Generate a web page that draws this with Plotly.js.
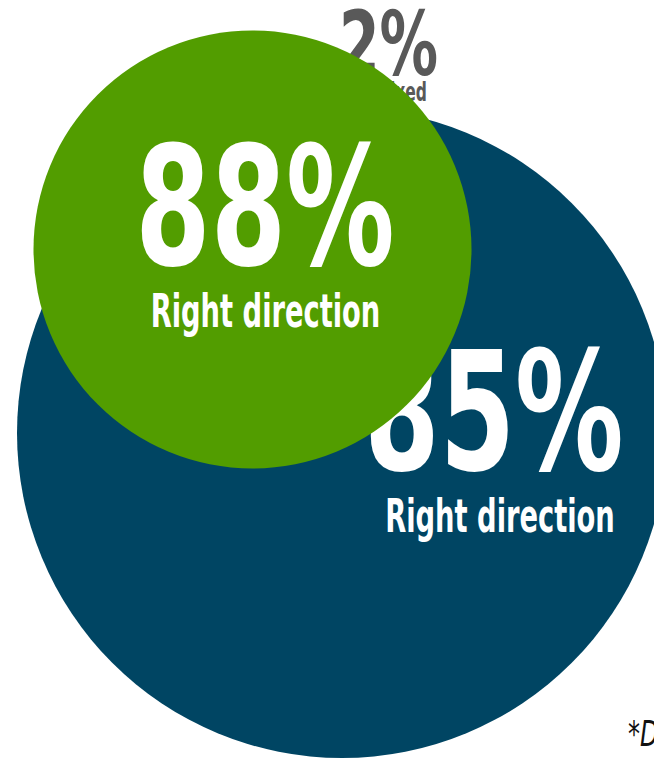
<!DOCTYPE html>
<html>
<head>
<meta charset="utf-8">
<script src="https://cdn.plot.ly/plotly-3.0.1.min.js"></script>
<style>html,body{margin:0;padding:0;background:#fff;}#chart{width:654px;height:759px;}</style>
</head>
<body>
<div id="chart"></div>
<script>
// Data
const groups = ["Group B", "Group A", "Other"];
const percents = [85, 88, 2];
const labels = ["Right direction", "Right direction", "Mixed"];
const footnote = "*Don't know";

// Layout (pixel coordinates on a 654x759 canvas)
const circleCenters = {x: [342, 252.5], y: [433, 249.5]};
const circleDiam = [650, 438];
const circleColors = ["#004563", "#529D00"];
const FONT = "DejaVu Sans Condensed, DejaVu Sans, sans-serif";

const pct = v => v + "%";

// each trace gets a horizontal squeeze factor (condensed look)
const squeeze = [];
const traces = [];
function addText(x, y, txt, size, color, sx, pos, extra) {
  traces.push({x: [x], y: [y], mode: "text", text: [txt], textposition: pos || "middle center",
    textfont: Object.assign({family: FONT, size: size, color: color, weight: 700}, extra || {}),
    hoverinfo: "skip", cliponaxis: false});
  squeeze.push({sx: sx});
}
function addCircle(i) {
  traces.push({x: [circleCenters.x[i]], y: [circleCenters.y[i]], mode: "markers",
    marker: {size: circleDiam[i], color: circleColors[i], line: {width: 0}}, hoverinfo: "skip"});
  squeeze.push(null);
}

// grey "2%" and label, behind circles
addText(388.5, 53, pct(percents[2]), 89, "#595959", 0.73);
addText(427, 94, labels[2], 27, "#595959", 0.64, "middle left");
// blue circle + its texts
addCircle(0);
addText(494, 429, pct(percents[0]), 165, "#ffffff", 0.73);
addText(500, 520.5, labels[0], 46, "#ffffff", 0.66);
// green circle + its texts
addCircle(1);
addText(265, 224, pct(percents[1]), 165, "#ffffff", 0.73);
addText(265.5, 315.5, labels[1], 46, "#ffffff", 0.66);
// footnote (clipped at right edge)
addText(628, 737, footnote, 36, "#111111", 0.74, "middle right", {weight: 400, style: "italic"});

const layout = {
  width: 654, height: 759,
  margin: {l: 0, r: 0, t: 0, b: 0},
  paper_bgcolor: "#ffffff", plot_bgcolor: "#ffffff",
  showlegend: false,
  xaxis: {range: [0, 654], visible: false, fixedrange: true},
  yaxis: {range: [759, 0], visible: false, fixedrange: true}
};

Plotly.newPlot("chart", traces, layout, {staticPlot: true, displayModeBar: false}).then(gd => {
  const trs = gd.querySelectorAll(".scatterlayer .trace");
  trs.forEach((tr, i) => {
    const s = squeeze[i];
    if (!s) return;
    tr.querySelectorAll(".textpoint text").forEach(t => {
      const x = parseFloat(t.getAttribute("x"));
      const prev = t.getAttribute("transform") || "";
      t.setAttribute("transform", prev + " translate(" + x + ",0) scale(" + s.sx + ",1) translate(" + (-x) + ",0)");
    });
  });
});
</script>
</body>
</html>
